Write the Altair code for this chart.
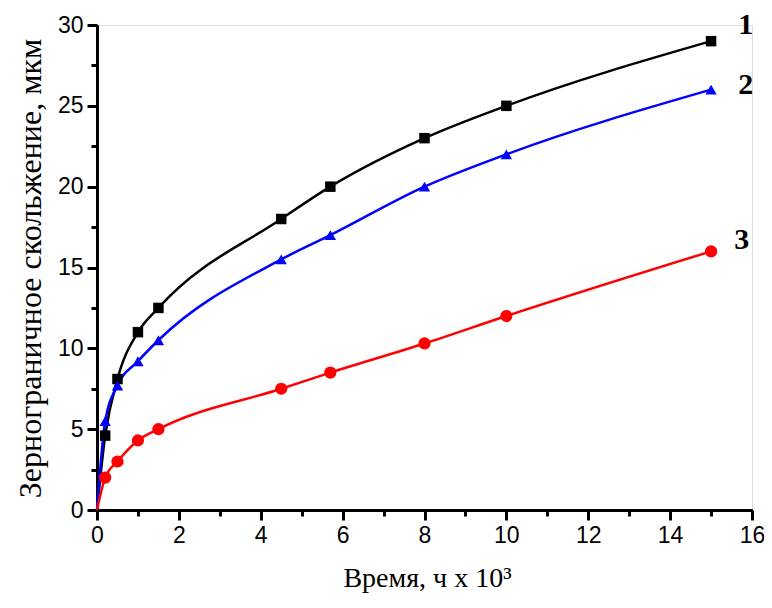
import altair as alt
import pandas as pd

# ---- data ----
time = [0, 0.2, 0.5, 1, 1.5, 4.5, 5.7, 8, 10, 15]
s1 = [0, 4.6, 8.1, 11.0, 12.5, 18.0, 20.0, 23.0, 25.0, 29.0]
s2 = [0, 5.5, 7.7, 9.2, 10.5, 15.5, 17.0, 20.0, 22.0, 26.0]
s3 = [0, 2.0, 3.0, 4.3, 5.0, 7.5, 8.5, 10.3, 12.0, 16.0]
series_names = ["1", "2", "3"]
colors = ["#000000", "#0000FF", "#FF0000"]
shapes = ["square", "triangle-up", "circle"]
marker_sizes = [110, 150, 110]
label_x = [15.85, 15.85, 15.75]
label_y = [30.0, 26.3, 16.7]

x_major = [0, 2, 4, 6, 8, 10, 12, 14, 16]
x_minor = [1, 3, 5, 7, 9, 11, 13, 15]
y_major = [0, 5, 10, 15, 20, 25, 30]
y_minor = [2.5, 7.5, 12.5, 17.5, 22.5, 27.5]

rows = []
for name, vals in zip(series_names, [s1, s2, s3]):
    for t, v in zip(time, vals):
        rows.append({"time": t, "value": v, "series": name})
df = pd.DataFrame(rows)
pts = df[df["time"] > 0]
lab = pd.DataFrame({"x": label_x, "y": label_y, "series": series_names})

xs = alt.Scale(domain=[0, 16], nice=False, zero=False)
ys = alt.Scale(domain=[0, 30], nice=False, zero=False)
cs = alt.Scale(domain=series_names, range=colors)
ss = alt.Scale(domain=series_names, range=shapes)
zs = alt.Scale(domain=series_names, range=marker_sizes)

SANS = "Arial, Liberation Sans"
SERIF = "Times New Roman, Liberation Serif"

x_axis = alt.Axis(values=x_major, tickSize=10, tickWidth=3, domainWidth=3,
                  domainColor="black", tickColor="black", labelColor="black",
                  labelFont=SANS, labelFontSize=23, labelPadding=4, grid=False,
                  labelFlush=False, labelOverlap=False, orient="bottom",
                  title="Время, ч x 10³", titleFont=SERIF, titleFontSize=28,
                  titleFontWeight="normal", titleColor="black",
                  titleX=330, titleY=68, titleBaseline="middle")
y_axis = alt.Axis(values=y_major, tickSize=10, tickWidth=3, domainWidth=3,
                  domainColor="black", tickColor="black", labelColor="black",
                  labelFont=SANS, labelFontSize=23, labelPadding=4, grid=False,
                  labelFlush=False, labelOverlap=False, orient="left",
                  title="Зернограничное скольжение, мкм", titleFont=SERIF,
                  titleFontSize=32, titleFontWeight="normal", titleColor="black",
                  titleX=-67, titleY=243, titleAngle=-90, titleBaseline="middle")
x_axis_minor = alt.Axis(values=x_minor, tickSize=6, tickWidth=3, domainWidth=3,
                        domainColor="black", tickColor="black", labels=False,
                        grid=False, orient="bottom", title="")
y_axis_minor = alt.Axis(values=y_minor, tickSize=6, tickWidth=3, domainWidth=3,
                        domainColor="black", tickColor="black", labels=False,
                        grid=False, orient="left", title="")

lines = alt.Chart(df).mark_line(interpolate="monotone", strokeWidth=2.5).encode(
    x=alt.X("time:Q", scale=xs, axis=x_axis),
    y=alt.Y("value:Q", scale=ys, axis=y_axis),
    color=alt.Color("series:N", scale=cs, legend=None),
    detail="series:N",
)

points = alt.Chart(pts).mark_point(filled=True, opacity=1).encode(
    x=alt.X("time:Q", scale=xs, axis=x_axis_minor),
    y=alt.Y("value:Q", scale=ys, axis=y_axis_minor),
    color=alt.Color("series:N", scale=cs, legend=None),
    shape=alt.Shape("series:N", scale=ss, legend=None),
    size=alt.Size("series:N", scale=zs, legend=None),
)

labels = alt.Chart(lab).mark_text(font=SERIF, fontSize=30, fontWeight="bold",
                                  color="black", baseline="middle", align="center",
                                  clip=False).encode(
    x=alt.X("x:Q", scale=xs, axis=None),
    y=alt.Y("y:Q", scale=ys, axis=None),
    text="series:N",
)

chart = alt.layer(lines, points, labels).resolve_axis(
    x="independent", y="independent"
).properties(
    width=655, height=485,
    autosize=alt.AutoSizeParams(type="none"),
    padding={"left": 89, "top": 17, "right": 12, "bottom": 88},
).configure_view(stroke=None).configure(background="white")

chart.save("out.html", embed_options={"renderer": "svg", "actions": False})
